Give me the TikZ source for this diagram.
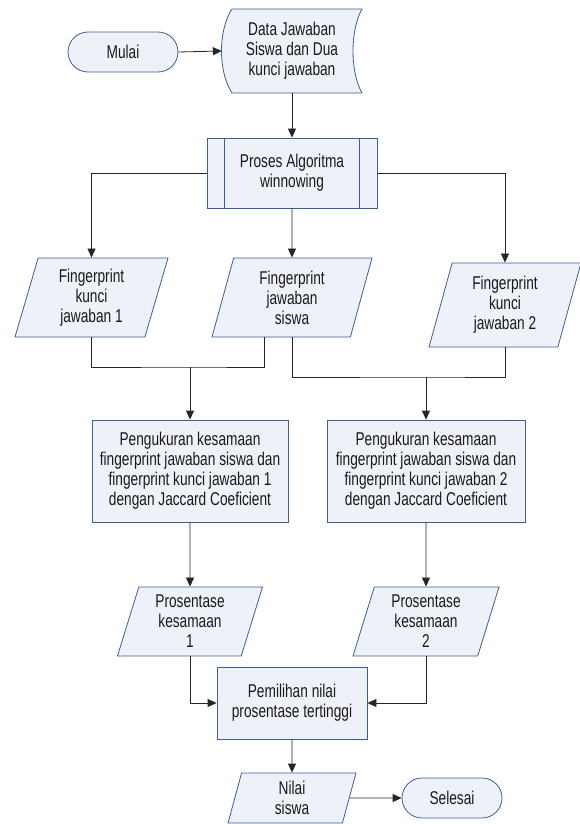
\documentclass[tikz,border=0pt]{standalone}
\usepackage{fontspec}
\setmainfont{Liberation Sans}[FakeStretch=0.74]
\usetikzlibrary{arrows.meta,shapes.geometric,shapes.misc}
\definecolor{FlowBlue}{HTML}{3D5F94}
\definecolor{FlowFill}{HTML}{EEF1F7}
\definecolor{FlowInk}{HTML}{1A1A1A}
\newcommand{\flowfont}{\fontsize{18.5pt}{20pt}\selectfont}
\tikzset{
  terminal/.style={rounded rectangle, draw=FlowBlue, line width=0.8pt, fill=FlowFill,
    font=\flowfont, text=FlowInk, minimum height=40pt, inner sep=0pt},
  storeddata/.style={font=\flowfont, text=FlowInk, align=center,
    minimum width=140pt, minimum height=84pt, inner sep=0pt},
  storedline/.style={draw=FlowBlue, line width=0.8pt, fill=FlowFill},
  predefined/.style={draw=FlowBlue, line width=0.8pt, fill=FlowFill, font=\flowfont,
    text=FlowInk, align=center, minimum width=170pt, minimum height=70pt},
  process/.style={draw=FlowBlue, line width=0.8pt, fill=FlowFill, font=\flowfont,
    text=FlowInk, align=center, inner sep=0pt},
  iodata/.style={trapezium, trapezium left angle=68, trapezium right angle=112,
    trapezium stretches body, draw=FlowBlue, line width=0.8pt, fill=FlowFill,
    font=\flowfont, text=FlowInk, align=center, inner sep=0pt},
  wire/.style={-{Triangle[length=9pt,width=8pt]}, line width=0.8pt, draw=black!85},
  joinwire/.style={line width=0.8pt, draw=black!85}
}
\begin{document}
\begin{tikzpicture}[x=1pt, y=-1pt]
  \useasboundingbox (0,0) rectangle (580,824);
  % start and input data
  \node[terminal, minimum width=110pt] (mulai) at (123,52) {Mulai};
  \draw[storedline, shift={(292,51)}] (-60,-42) -- (70,-42)
    .. controls (58,-21) and (58,21) .. (70,42) -- (-60,42)
    .. controls (-74,21) and (-74,-21) .. (-60,-42);
  \node[storeddata] (data) at (292,51) {Data Jawaban\\Siswa dan Dua\\kunci jawaban};
  \node[predefined] (proses) at (292,173) {Proses Algoritma\\winnowing};
  \draw[FlowBlue, line width=0.8pt] ([xshift=18pt]proses.north west) -- ([xshift=18pt]proses.south west);
  \draw[FlowBlue, line width=0.8pt] ([xshift=-18pt]proses.north east) -- ([xshift=-18pt]proses.south east);
  % fingerprints
  \node[iodata, minimum width=153pt, minimum height=79pt] (fp1) at (91.5,297.5) {Fingerprint\\kunci\\jawaban 1};
  \node[iodata, minimum width=160pt, minimum height=79pt] (fps) at (292,297.5) {Fingerprint\\jawaban\\siswa};
  \node[iodata, minimum width=152pt, minimum height=84pt] (fp2) at (505,305) {Fingerprint\\kunci\\jawaban 2};
  % similarity
  \node[process, minimum width=196pt, minimum height=102pt] (uk1) at (190,471)
    {Pengukuran kesamaan\\fingerprint jawaban siswa dan\\fingerprint kunci jawaban 1\\dengan Jaccard Coeficient};
  \node[process, minimum width=198pt, minimum height=102pt] (uk2) at (426,471)
    {Pengukuran kesamaan\\fingerprint jawaban siswa dan\\fingerprint kunci jawaban 2\\dengan Jaccard Coeficient};
  \node[iodata, minimum width=145pt, minimum height=69pt] (pr1) at (190,621.5) {Prosentase\\kesamaan\\1};
  \node[iodata, minimum width=146pt, minimum height=69pt] (pr2) at (426,621.5) {Prosentase\\kesamaan\\2};
  % result
  \node[process, minimum width=150pt, minimum height=72pt] (pilih) at (292,703) {Pemilihan nilai\\prosentase tertinggi};
  \node[iodata, minimum width=128pt, minimum height=50pt] (nilai) at (292,798) {Nilai\\siswa};
  \node[terminal, minimum width=100pt] (selesai) at (452,798) {Selesai};
  \coordinate (join1) at (190,367);
  \coordinate (join2) at (426,377);
  \draw[wire] (mulai.east) -- (data.west);
  \draw[wire] (data.south) -- (proses.north);
  \draw[wire] (proses.west) -| (fp1.north);
  \draw[wire] (proses.south) -- (fps.north);
  \draw[wire] (proses.east) -| (fp2.north);
  \draw[joinwire] (fp1.south) |- (join1) -| ([xshift=-28pt]fps.south);
  \draw[joinwire] (fps.south) |- (join2) -| (fp2.south);
  \draw[wire] (join1) -- (uk1.north);
  \draw[wire] (join2) -- (uk2.north);
  \draw[wire] (uk1.south) -- (pr1.north);
  \draw[wire] (uk2.south) -- (pr2.north);
  \draw[wire] (pr1.south) |- (pilih.west);
  \draw[wire] (pr2.south) |- (pilih.east);
  \draw[wire] (pilih.south) -- (nilai.north);
  \draw[wire] (nilai.east) -- (selesai.west);
\end{tikzpicture}
\end{document}
